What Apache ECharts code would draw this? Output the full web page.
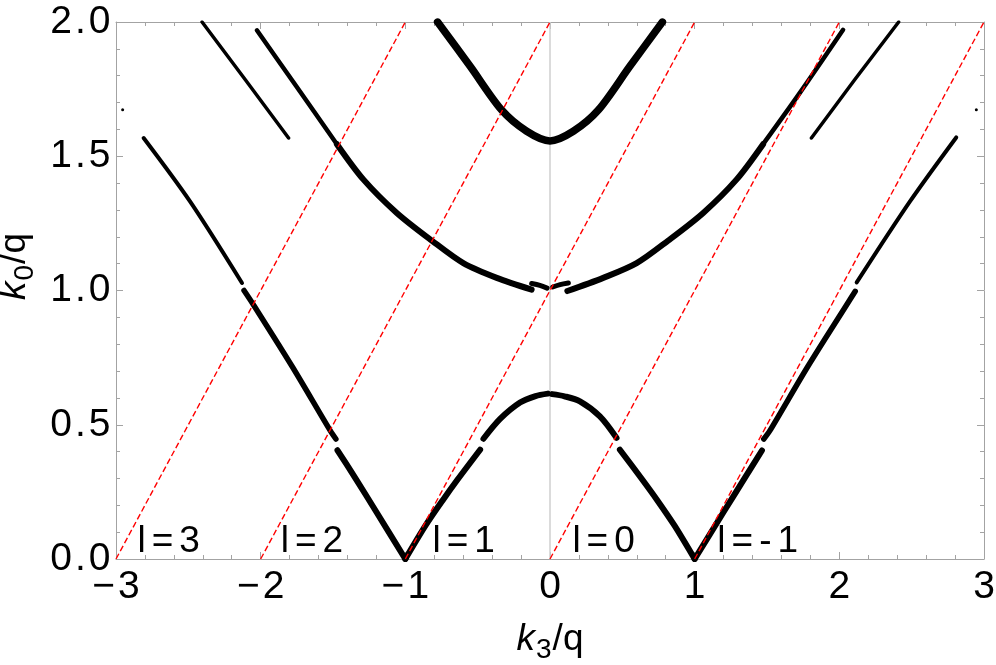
<!DOCTYPE html>
<html>
<head>
<meta charset="utf-8">
<script src="https://cdn.jsdelivr.net/npm/echarts@6/dist/echarts.min.js"></script>
<style>
  html, body { margin: 0; padding: 0; background: #fff; }
  #chart { width: 996px; height: 665px; }
</style>
</head>
<body>
<div id="chart"></div>
<script>
// points, [k3/q, k0/q]
const lowInnerLeft = [[-1.0, 0.0], [-0.86, 0.125], [-0.74, 0.22], [-0.64, 0.295], [-0.483, 0.407]]
const lowInnerRight = [[1.0, 0.0], [0.86, 0.125], [0.74, 0.22], [0.635, 0.298], [0.483, 0.407]]
const lowArcLeft = [[-0.46, 0.448], [-0.345, 0.522], [-0.207, 0.583], [-0.1, 0.607], [-0.015, 0.616]]
const lowArcRight = [[0.015, 0.614], [0.1, 0.606], [0.207, 0.587], [0.345, 0.531], [0.46, 0.451]]
const lowOuterLeft = [[-1.0, 0.0], [-1.2, 0.175], [-1.35, 0.305], [-1.469, 0.405]]
const lowOuterRight = [[1.0, 0.0], [1.2, 0.175], [1.35, 0.305], [1.465, 0.404]]
const midOuterLeft = [[-1.48, 0.447], [-1.519, 0.478], [-1.78, 0.715], [-2.049, 0.946], [-2.115, 1.0]]
const midOuterRight = [[1.478, 0.447], [1.52, 0.478], [1.78, 0.715], [2.05, 0.946], [2.11, 0.997]]
const upOuterLeft = [[-2.129, 1.028], [-2.486, 1.33], [-2.809, 1.568]]
const upOuterRight = [[2.12, 1.03], [2.486, 1.33], [2.808, 1.57]]
const midBandLeftTop = [[-2.026, 1.969], [-1.75, 1.758], [-1.473, 1.545]]
const midBandLeft = [[-1.473, 1.545], [-1.289, 1.413], [-1.059, 1.289], [-0.817, 1.186], [-0.599, 1.102], [-0.368, 1.047], [-0.127, 1.003]]
const midBandRight = [[0.12, 0.998], [0.368, 1.047], [0.599, 1.102], [0.817, 1.186], [1.059, 1.289], [1.289, 1.413], [1.473, 1.545]]
const midBandRightTop = [[1.473, 1.545], [1.727, 1.736], [2.026, 1.971]]
const midStubLeft = [[-0.127, 1.026], [-0.07, 1.019], [-0.02, 1.009]]
const midStubRight = [[0.019, 1.013], [0.07, 1.022], [0.127, 1.028]]
const thinLeft = [[-2.405, 2.0], [-2.106, 1.785], [-1.807, 1.568]]
const thinRight = [[1.807, 1.568], [2.106, 1.785], [2.41, 2.0]]
const topBand = [[-0.777, 2.0], [-0.552, 1.835], [-0.334, 1.672], [-0.161, 1.593], [0, 1.557], [0.161, 1.593], [0.334, 1.672], [0.552, 1.835], [0.777, 2.0]]
const strayDots = [[-2.954, 1.673], [2.947, 1.673]]

// red dashed lines k0 = k3 + l
const lineNames = ['l=3', 'l=2', 'l=1', 'l=0', 'l=-1']
const lineStart = [[-3, 0], [-2, 0], [-1, 0], [0, 0], [1, 0]]
const lineEnd = [[-1, 2], [0, 2], [1, 2], [2, 2], [3, 2]]
const labelAt = [[-2.872, 0.064], [-1.882, 0.064], [-0.833, 0.064], [0.134, 0.064], [1.136, 0.064]]

const xTicks = [-3, -2, -1, 0, 1, 2, 3]
const yTicks = [0, 0.5, 1.0, 1.5, 2.0]

const FONT = '"Liberation Sans", Arial, sans-serif'
const FRAME = '#a3a3a3'

// the picture's text is set a little loose, so each character is its own rich token
function spaced(str, key) {
  return str.split('').map(function (c) { return '{' + key + '|' + c + '}' }).join('')
}

function band(data, width, smooth) {
  return {
    type: 'line',
    data: data,
    smooth: smooth === undefined ? 0.3 : smooth,
    showSymbol: false,
    lineStyle: { color: '#000', width: width, cap: 'round', join: 'round' },
    z: 3,
    silent: true
  }
}

function axisName(sub, pad) {
  return {
    name: '{k|k}{s|' + sub + '}{n|/q}',
    nameTextStyle: {
      padding: pad,
      rich: {
        k: { fontFamily: FONT, fontSize: 37, fontStyle: 'italic', color: '#000', verticalAlign: 'top', padding: [0, 1, 0, 0] },
        s: { fontFamily: FONT, fontSize: 28, color: '#000', verticalAlign: 'top', padding: [15, 1, 0, 0] },
        n: { fontFamily: FONT, fontSize: 37, color: '#000', verticalAlign: 'top' }
      }
    }
  }
}

const tickText = { t: { fontFamily: FONT, fontSize: 39, color: '#000', padding: [0, 1.5, 0, 1.5] } }

const frameAxis = {
  axisLine: { show: true, onZero: false, lineStyle: { color: FRAME, width: 1 } },
  axisTick: { show: true, inside: true, length: 7, lineStyle: { color: FRAME } },
  minorTick: { show: true, splitNumber: 5, length: 4, lineStyle: { color: FRAME } },
  splitLine: { show: false },
  minorSplitLine: { show: false }
}

const chart = echarts.init(document.getElementById('chart'))

const series = [
  // vertical axis at k3 = 0
  { type: 'line', data: [[0, 0], [0, 2]], showSymbol: false, silent: true, z: 1,
    lineStyle: { color: '#cfcfcf', width: 1.5 } },
  band(lowInnerLeft, 6), band(lowInnerRight, 6),
  band(lowArcLeft, 6), band(lowArcRight, 6),
  band(lowOuterLeft, 6), band(lowOuterRight, 6),
  band(midOuterLeft, 5.5), band(midOuterRight, 5.5),
  band(upOuterLeft, 4), band(upOuterRight, 4),
  band(midBandLeftTop, 4.5), band(midBandLeft, 6),
  band(midBandRight, 6), band(midBandRightTop, 4.5),
  band(midStubLeft, 5), band(midStubRight, 5),
  band(thinLeft, 3.5, false), band(thinRight, 3.5, false),
  band(topBand, 7.5),
  { type: 'scatter', data: strayDots, symbolSize: 3, itemStyle: { color: '#000', opacity: 1 }, silent: true, z: 3 }
]

lineNames.forEach(function (nm, i) {
  series.push({
    type: 'line',
    data: [lineStart[i], lineEnd[i]],
    showSymbol: false,
    silent: true,
    z: 4,
    lineStyle: { color: '#ff0000', width: 1.4, type: [6, 3] }
  })
})

series.push({
  type: 'scatter',
  data: labelAt.map(function (p, i) { return { value: p, name: lineNames[i] } }),
  symbolSize: 0,
  silent: true,
  z: 5,
  itemStyle: { opacity: 1 },
  label: {
    show: true,
    position: 'right',
    distance: 0,
    formatter: function (p) { return spaced(p.name, 'l') },
    rich: { l: { fontFamily: FONT, fontSize: 37, color: '#000', padding: [0, 3, 0, 3] } }
  }
})

chart.setOption({
  animation: false,
  backgroundColor: '#fff',
  grid: { left: 116, top: 22, width: 868, height: 537, outerBoundsMode: 'none', containLabel: false },
  xAxis: [
    Object.assign({
      type: 'value', min: -3, max: 3, interval: 1, position: 'bottom',
      nameLocation: 'middle', nameGap: 62,
      axisLabel: {
        margin: 9,
        formatter: function (v) {
          if (xTicks.indexOf(v) < 0) return ''
          return spaced(v < 0 ? '\u2212' + Math.abs(v) : String(v), 't')
        },
        rich: tickText
      }
    }, frameAxis, axisName('3', 0)),
    Object.assign({
      type: 'value', min: -3, max: 3, interval: 1, position: 'top',
      axisLabel: { show: false }
    }, frameAxis)
  ],
  yAxis: [
    Object.assign({
      type: 'value', min: 0, max: 2, interval: 0.5, position: 'left',
      nameLocation: 'middle', nameGap: 74,
      axisLabel: {
        margin: 4,
        formatter: function (v) { return yTicks.indexOf(v) < 0 ? '' : spaced(v.toFixed(1), 't') },
        rich: tickText
      }
    // the vertical title sits a little above the middle of the axis in the picture
    }, frameAxis, axisName('0', [0, 0, 0, 48])),
    Object.assign({
      type: 'value', min: 0, max: 2, interval: 0.5, position: 'right',
      axisLabel: { show: false }
    }, frameAxis)
  ],
  series: series
})
</script>
</body>
</html>
